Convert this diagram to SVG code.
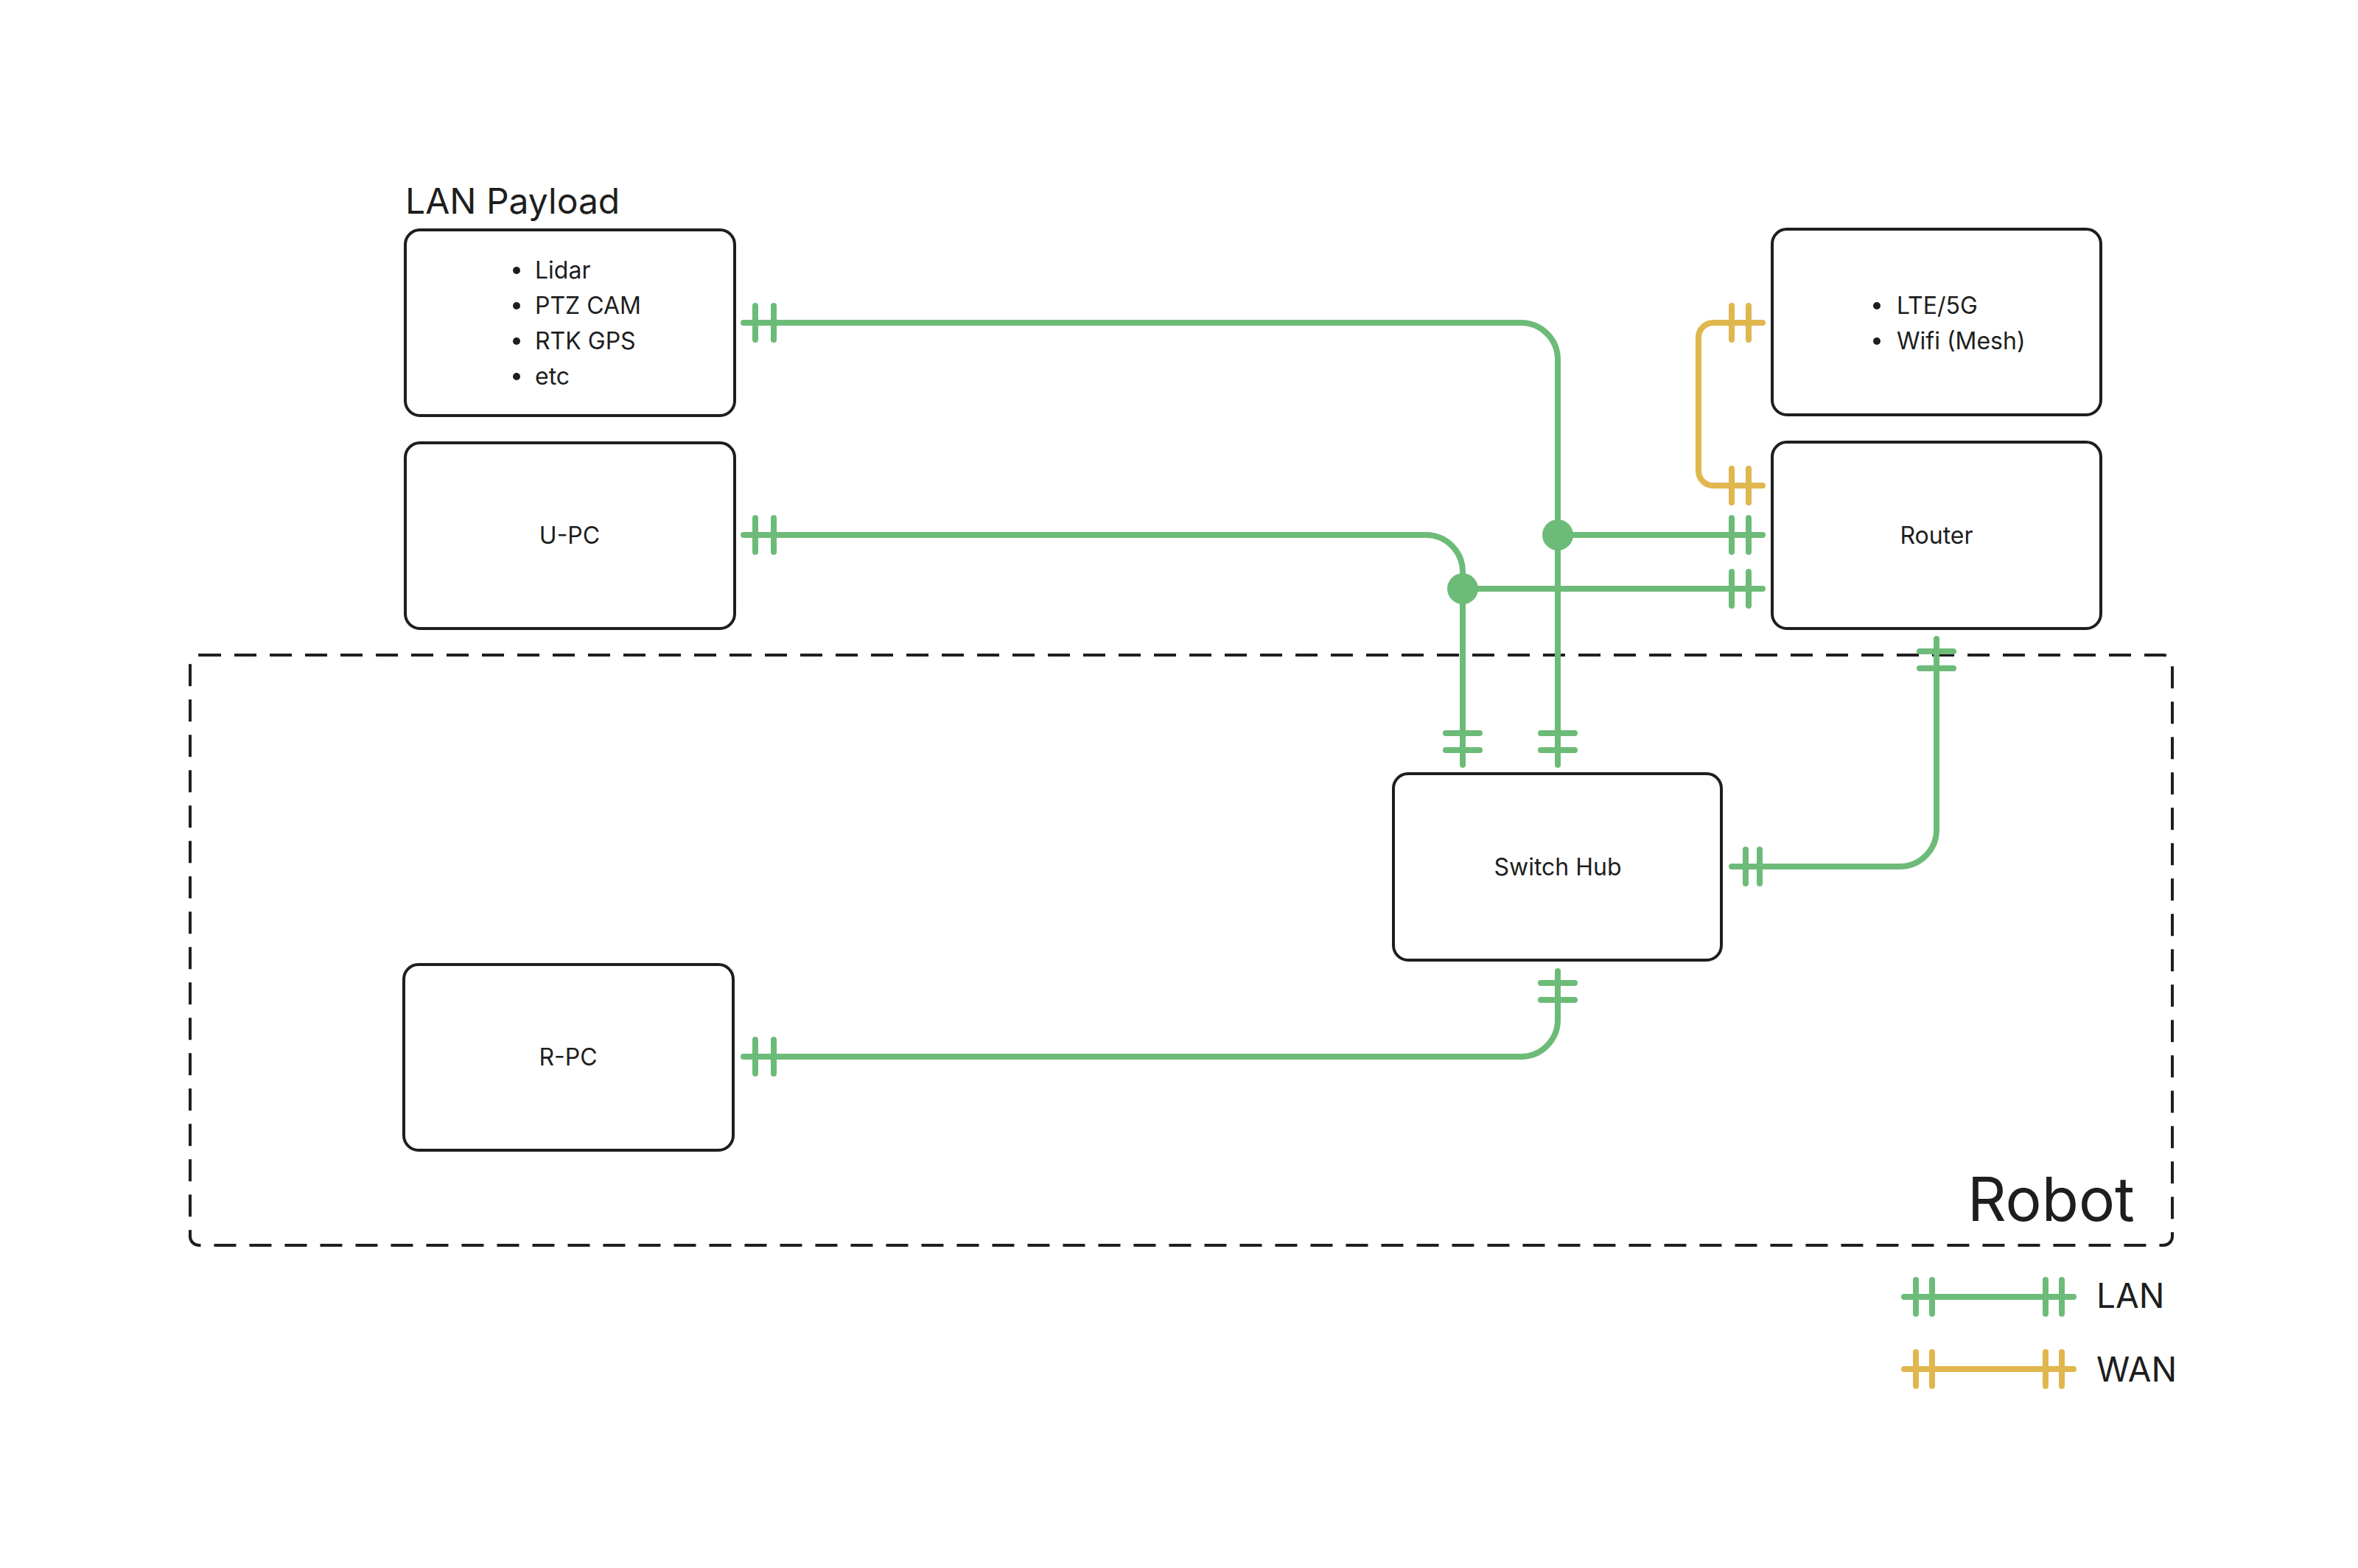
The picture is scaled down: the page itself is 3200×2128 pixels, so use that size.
<svg xmlns="http://www.w3.org/2000/svg" width="3200" height="2128" viewBox="0 0 3200 2128">
<style>
.box{fill:#fff;stroke:#1e1e1e;stroke-width:4}
.t{font-family:Inter,"Liberation Sans",sans-serif;fill:#1e1e1e}
.lan{fill:none;stroke:#6dbb78;stroke-width:8;stroke-linecap:round}
.wan{fill:none;stroke:#e0b64e;stroke-width:8;stroke-linecap:round}
</style>
<rect width="3200" height="2128" fill="#fff"/>
<rect x="258" y="889" width="2690" height="801" rx="12" fill="none" stroke="#1e1e1e" stroke-width="4" stroke-dasharray="30 18"/>
<text class="t" x="2670" y="1657" font-size="82">Robot</text>
<text class="t" x="550" y="290" font-size="48">LAN Payload</text>
<g id="payload"><rect class="box" x="550" y="312" width="447" height="252" rx="20"/>
<g class="t" font-size="32"><circle cx="701" cy="367" r="5"/><circle cx="701" cy="415" r="5"/><circle cx="701" cy="463" r="5"/><circle cx="701" cy="511" r="5"/>
<text x="726" y="378">Lidar</text><text x="726" y="426">PTZ CAM</text><text x="726" y="474">RTK GPS</text><text x="726" y="522">etc</text></g></g>
<g id="upc"><rect class="box" x="550" y="601" width="447" height="252" rx="20"/><text class="t" x="773" y="738" font-size="32" text-anchor="middle">U-PC</text></g>
<g id="rpc"><rect class="box" x="548" y="1309" width="447" height="252" rx="20"/><text class="t" x="771" y="1446" font-size="32" text-anchor="middle">R-PC</text></g>
<g id="lte"><rect class="box" x="2405" y="311" width="446" height="252" rx="20"/>
<g class="t" font-size="32"><circle cx="2547" cy="415" r="5"/><circle cx="2547" cy="463" r="5"/><text x="2574" y="426">LTE/5G</text><text x="2574" y="474">Wifi (Mesh)</text></g></g>
<g id="router"><rect class="box" x="2405" y="600" width="446" height="253" rx="20"/><text class="t" x="2628" y="738" font-size="32" text-anchor="middle">Router</text></g>
<g id="switch"><rect class="box" x="1891" y="1050" width="445" height="253" rx="20"/><text class="t" x="2114" y="1188" font-size="32" text-anchor="middle">Switch Hub</text></g>
<g id="connectors">
<path class="lan" d="M1009 438H2064A50 50 0 0 1 2114 488V1038M1025 415v46M1050 415v46M2091 995h46M2091 1018h46"/>
<path class="lan" d="M1009 726H1935A50 50 0 0 1 1985 776V1038M1025 703v46M1050 703v46M1962 995h46M1962 1018h46"/>
<path class="lan" d="M2114 726H2392M1985 799H2392M2350 703v46M2373 703v46M2350 776v46M2373 776v46"/>
<path class="lan" d="M2628 867V1126A50 50 0 0 1 2578 1176H2350M2605 884h46M2605 907h46M2369 1153v46M2388 1153v46"/>
<path class="lan" d="M2114 1318V1384A50 50 0 0 1 2064 1434H1009M2091 1334h46M2091 1357h46M1025 1411v46M1050 1411v46"/>
<circle cx="2114" cy="726" r="21" fill="#6dbb78"/><circle cx="1985" cy="799" r="21" fill="#6dbb78"/>
<path class="wan" d="M2392 438H2325A20 20 0 0 0 2305 458V639A20 20 0 0 0 2325 659H2392M2350 415v46M2373 415v46M2350 636v46M2373 636v46"/>
</g>
<g id="legend">
<path class="lan" d="M2584 1760H2814M2600 1737v46M2622 1737v46M2776 1737v46M2798 1737v46"/>
<path class="wan" d="M2584 1858H2814M2600 1835v46M2622 1835v46M2776 1835v46M2798 1835v46"/>
<text class="t" x="2845" y="1775" font-size="46">LAN</text><text class="t" x="2845" y="1875" font-size="46">WAN</text>
</g>
</svg>
